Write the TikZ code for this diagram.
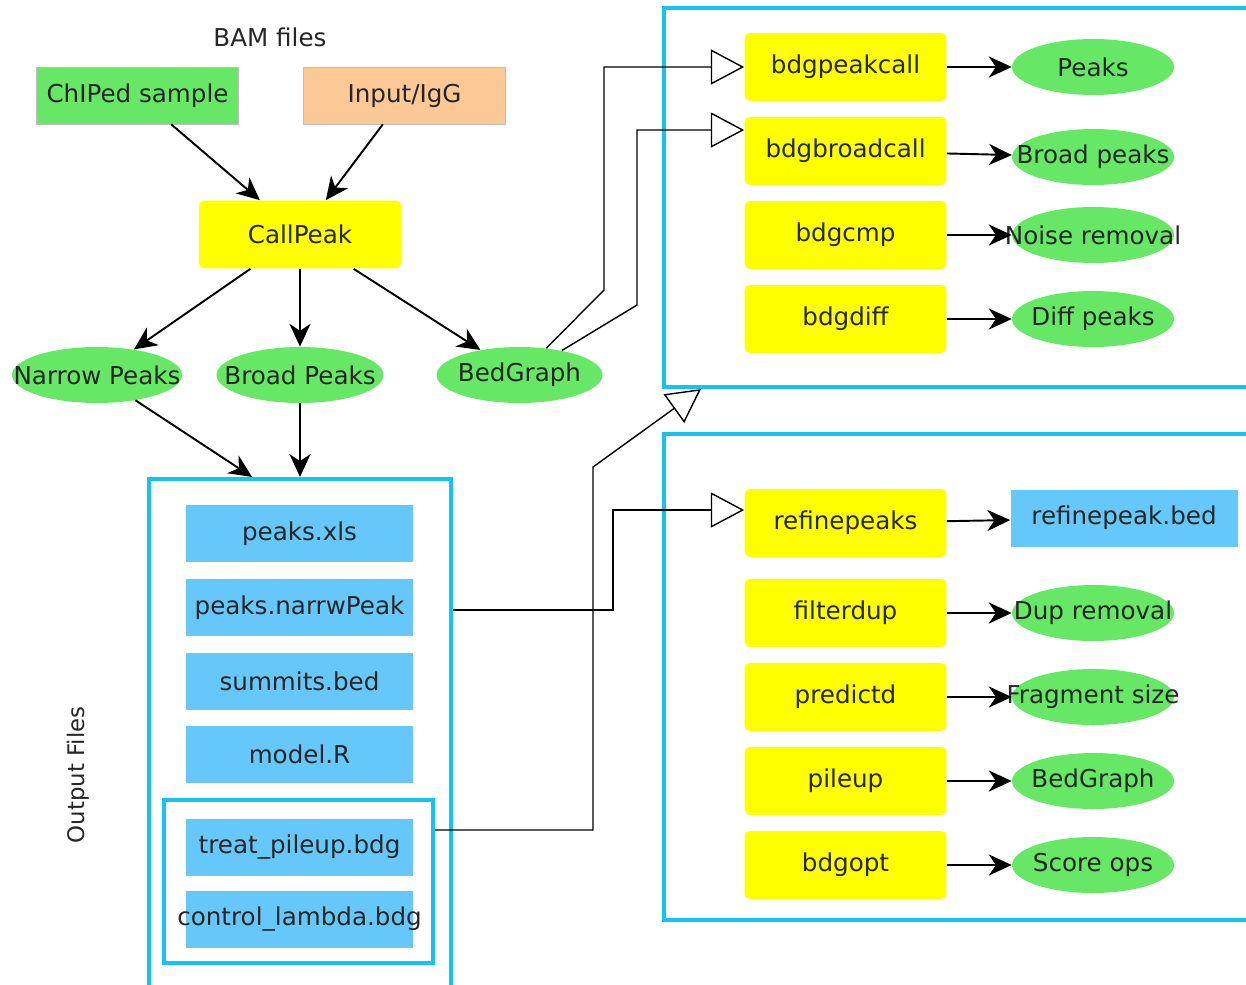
\documentclass[tikz,border=0pt]{standalone}
\usepackage{fontspec}
\setmainfont{DejaVu Sans}
\usetikzlibrary{arrows.meta,shapes.geometric}
\definecolor{leaf}{HTML}{66E866}
\definecolor{callyellow}{HTML}{FFFF00}
\definecolor{igg}{HTML}{FBC896}
\definecolor{fileblue}{HTML}{66C8FA}
\definecolor{panelcyan}{HTML}{14C4EE}
\newcommand{\spill}[1]{\makebox[0pt]{#1}}

\begin{document}
\begin{tikzpicture}[x=0.02cm,y=-0.02cm,
    font=\fontsize{14}{16}\selectfont, text=black!85,
    tool/.style={rectangle, rounded corners=3pt, fill=callyellow, minimum width=4.04cm, minimum height=1.36cm},
    result/.style={ellipse, fill=leaf, minimum width=3.24cm, minimum height=1.12cm, inner sep=0pt},
    bamfile/.style={rectangle, draw=black!25, minimum width=4.04cm, minimum height=1.14cm},
    outfile/.style={rectangle, fill=fileblue, minimum width=4.54cm, minimum height=1.14cm, inner sep=0pt},
    panel/.style={rectangle, draw=panelcyan, line width=2.4pt},
    flow/.style={-{Stealth[length=13pt,width=12pt,inset=4pt]}, line width=1.1pt},
    feed/.style={-{Triangle[open,length=19pt,width=20pt,fill=white]}, line width=0.8pt}]
    \useasboundingbox (0,0) rectangle (1246,984);

    % boxes around the groups
    \node[panel, minimum width=6.04cm, minimum height=10.44cm] (outbox) at (300,740) {};
    \node[panel, minimum width=5.38cm, minimum height=3.26cm] (pilebox) at (298.5,881.5) {};
    \node[panel, minimum width=11.92cm, minimum height=7.58cm] (toppanel) at (962,197.5) {};
    \node[panel, minimum width=11.92cm, minimum height=9.72cm] (lowpanel) at (962,677) {};

    % inputs and peak calling
    \node (bam) at (270,37) {BAM files};
    \node[bamfile, fill=leaf] (chip) at (137.5,95.5) {ChIPed sample};
    \node[bamfile, fill=igg] (input) at (404.5,95.5) {Input/IgG};
    \node[tool] (callpeak) at (300,234.5) {CallPeak};
    \node[result, minimum width=3.4cm] (narrow) at (97,375) {\spill{Narrow Peaks}};
    \node[result, minimum width=3.34cm] (broad) at (300,375) {\spill{Broad Peaks}};
    \node[result, minimum width=3.32cm] (bedgraph) at (519.5,375) {\spill{BedGraph}};

    % output files
    \node[rotate=90, font=\fontsize{13}{15}\selectfont] (outlabel) at (78,775) {Output Files};
    \node[outfile] (xls) at (299.5,533.5) {peaks.xls};
    \node[outfile] (narrw) at (299.5,607.5) {peaks.narrwPeak};
    \node[outfile] (summits) at (299.5,681.5) {summits.bed};
    \node[outfile] (model) at (299.5,754.5) {model.R};
    \node[outfile] (treat) at (299.5,847) {treat\_pileup.bdg};
    \node[outfile] (lambda) at (299.5,919.5) {\spill{control\_lambda.bdg}};

    % bedgraph tools
    \node[tool] (bdgpeakcall) at (845.5,67) {bdgpeakcall};
    \node[tool] (bdgbroadcall) at (845.5,151) {bdgbroadcall};
    \node[tool] (bdgcmp) at (845.5,235) {bdgcmp};
    \node[tool] (bdgdiff) at (845.5,319) {bdgdiff};
    \node[result] (peaks) at (1093,67) {\spill{Peaks}};
    \node[result] (broadpk) at (1093,157) {\spill{Broad peaks}};
    \node[result] (noise) at (1093,235) {\spill{Noise removal}};
    \node[result] (diffpk) at (1093,319) {\spill{Diff peaks}};

    % other subcommands
    \node[tool] (refinepeaks) at (845.5,523) {refinepeaks};
    \node[tool] (filterdup) at (845.5,613) {filterdup};
    \node[tool] (predictd) at (845.5,697) {predictd};
    \node[tool] (pileup) at (845.5,781) {pileup};
    \node[tool] (bdgopt) at (845.5,865) {bdgopt};
    \node[outfile] (refbed) at (1124,518) {refinepeak.bed};
    \node[result] (dup) at (1093,613) {\spill{Dup removal}};
    \node[result] (fragsize) at (1093,697) {\spill{Fragment size}};
    \node[result] (bedgraph2) at (1093,781) {\spill{BedGraph}};
    \node[result] (scoreops) at (1093,865) {\spill{Score ops}};

    \draw[flow] (chip) -- (callpeak);
    \draw[flow] (input) -- (callpeak);
    \draw[flow] (callpeak) -- (narrow);
    \draw[flow] (callpeak) -- (broad);
    \draw[flow] (callpeak) -- (bedgraph);
    \draw[flow] (narrow) -- ([xshift=-0.96cm]outbox.north);
    \draw[flow] (broad) -- (outbox.north);

    \draw[flow] (bdgpeakcall) -- (peaks);
    \draw[flow] (bdgbroadcall) -- (broadpk);
    \draw[flow] (bdgcmp) -- (noise);
    \draw[flow] (bdgdiff) -- (diffpk);
    \draw[flow] (refinepeaks) -- (refbed);
    \draw[flow] (filterdup) -- (dup);
    \draw[flow] (predictd) -- (fragsize);
    \draw[flow] (pileup) -- (bedgraph2);
    \draw[flow] (bdgopt) -- (scoreops);

    \draw[feed] (bedgraph.45) -- (604,290) |- (bdgpeakcall.west);
    \draw[feed] (bedgraph.30) -- (637,305) |- ([yshift=0.42cm]bdgbroadcall.west);
    \draw[feed] (outbox.east |- 0,610) -- (613,610) |- ([yshift=0.26cm]refinepeaks.west);
    \draw[feed] (pilebox.east |- 0,830) -- (593,830) -- (593,467) -- ([xshift=0.78cm]toppanel.south west);
\end{tikzpicture}
\end{document}
